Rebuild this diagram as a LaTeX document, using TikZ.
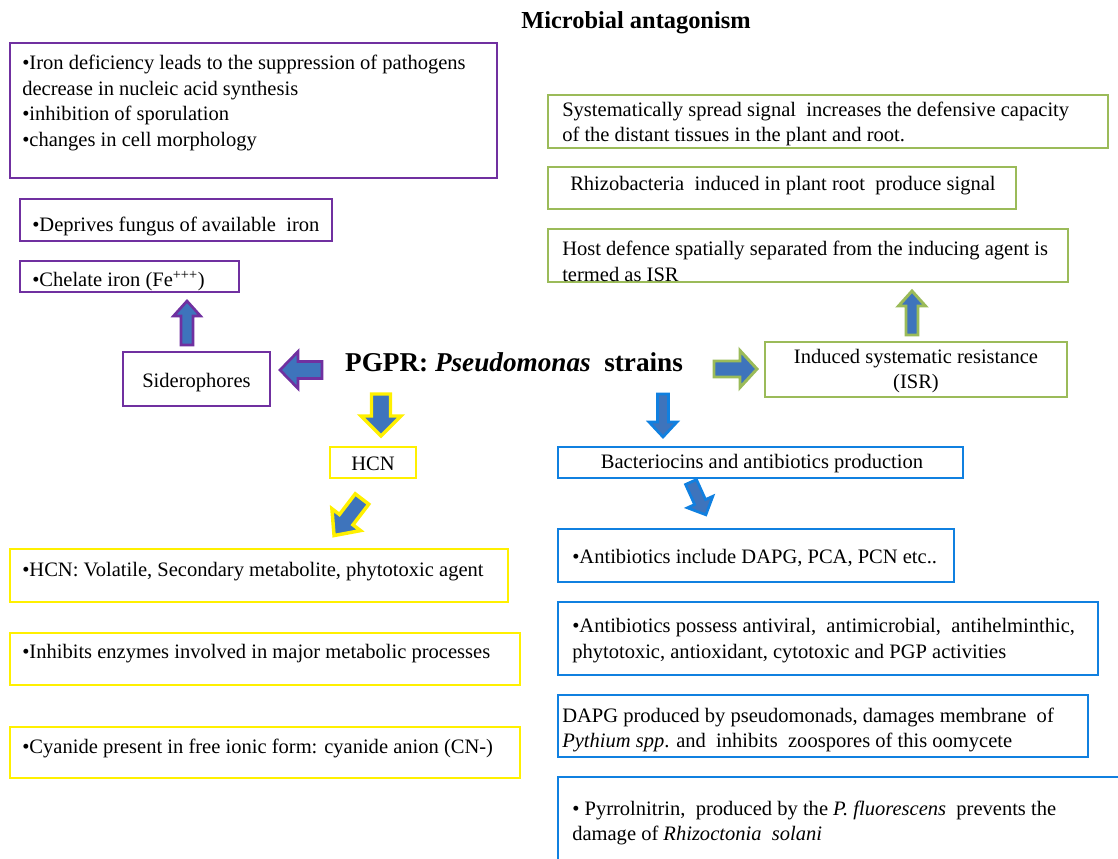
\documentclass[tikz,border=0pt]{standalone}
\usepackage{fontspec}
\setmainfont{Liberation Serif}
\definecolor{cpurple}{HTML}{7030A0}
\definecolor{cgreen}{HTML}{9BBB59}
\definecolor{cblue}{HTML}{1080E0}
\definecolor{cyellow}{HTML}{FFF000}
\definecolor{afill}{HTML}{3E74BC}
\newcommand{\bodyfont}{\fontsize{15.4}{19.4}\selectfont}
% box: name, colour, x1, y1, x2, y2 (pixel coordinates)
\newcommand{\bx}[6]{\node[draw=#2, line width=2.2pt, inner sep=0pt, outer sep=0pt,
  minimum width={(#5-#3)*0.75pt}, minimum height={(#6-#4)*0.75pt}, anchor=north west] (#1) at (#3,#4) {};}
% block arrow: style, tail coordinate, angle, length, shaft half, head half, head length
\newcommand{\blockarrow}[7]{\begin{scope}[shift={(#2)}, rotate=#3]
  \draw[#1] (0,-#5) -- ({#4-#7},-#5) -- ({#4-#7},-#6) -- (#4,0) -- ({#4-#7},#6) -- ({#4-#7},#5) -- (0,#5) -- cycle;
  \end{scope}}
\tikzset{
  txt/.style={font=\bodyfont, inner sep=0pt, align=left, anchor=west},
  arrp/.style={draw=cpurple, fill=afill, line width=2pt, line join=miter},
  arry/.style={draw=cyellow, fill=afill, line width=2.6pt, line join=miter},
  arrg/.style={draw=cgreen, fill=afill, line width=2.2pt, line join=miter},
  arrb/.style={draw=cblue, fill=afill, line width=2pt, line join=miter},
}
\begin{document}
\begin{tikzpicture}[x=0.75pt, y=-0.75pt]
\useasboundingbox[fill=white] (0,0) rectangle (1118,858);

% title
\node[font=\fontsize{18.3}{21}\selectfont\bfseries, inner sep=0pt] (title) at (636,23) {Microbial antagonism};

% centre
\node[font=\fontsize{20.4}{24}\selectfont\bfseries, inner sep=0pt] (pgpr) at (514,362) {PGPR: \textit{Pseudomonas}\ \ strains};

% purple group
\bx{p1}{cpurple}{10}{43}{497}{178}
\node[txt] (p1t) at (22,103) {•Iron deficiency leads to the suppression of pathogens\\decrease in nucleic acid synthesis\\•inhibition of sporulation\\•changes in cell morphology};
\bx{p2}{cpurple}{20}{199}{332}{241}
\node[txt] (p2t) at (32,226) {•Deprives fungus of available\ \ iron};
\bx{p3}{cpurple}{20}{261}{239}{292}
\node[txt] (p3t) at (32,281) {•Chelate iron (Fe\textsuperscript{+++})};
\bx{sid}{cpurple}{123}{352}{270}{406}
\node[txt, anchor=center] (sidt) at (196.5,383) {Siderophores};

% yellow group
\bx{hcn}{cyellow}{330}{447}{416}{478}
\node[txt, anchor=center] (hcnt) at (373,464) {HCN};
\bx{y1}{cyellow}{10}{549}{508}{602}
\node[txt] (y1t) at (22,572) {•HCN: Volatile, Secondary metabolite, phytotoxic agent};
\bx{y2}{cyellow}{10}{633}{520}{685}
\node[txt] (y2t) at (22,654) {•Inhibits enzymes involved in major metabolic processes};
\bx{y3}{cyellow}{10}{727}{520}{778}
\node[txt] (y3t) at (22,748) {•Cyanide present in free ionic form: cyanide anion (CN-)};

% green group
\bx{g1}{cgreen}{548}{95}{1108}{148}
\node[txt] (g1t) at (562,124) {Systematically spread signal\ \ increases the defensive capacity\\of the distant tissues in the plant and root.};
\bx{g2}{cgreen}{548}{167}{1016}{209}
\node[txt] (g2t) at (570,186) {Rhizobacteria\ \ induced in plant root\ \ produce signal};
\bx{g3}{cgreen}{548}{229}{1068}{282}
\node[txt] (g3t) at (562,261) {Host defence spatially separated from the inducing agent is\\termed as ISR};
\bx{isr}{cgreen}{765}{342}{1067}{397}
\node[txt, align=center, anchor=center] (isrt) at (916,371) {Induced systematic resistance\\(ISR)};

% blue group
\bx{bact}{cblue}{558}{447}{963}{478}
\node[txt, anchor=center] (bactt) at (762,464) {Bacteriocins and antibiotics production};
\bx{b1}{cblue}{558}{529}{954}{582}
\node[txt] (b1t) at (572,558) {•Antibiotics include DAPG, PCA, PCN etc..};
\bx{b2}{cblue}{558}{602}{1098}{675}
\node[txt] (b2t) at (572,641) {•Antibiotics possess antiviral,\ \ antimicrobial,\ \ antihelminthic,\\phytotoxic, antioxidant, cytotoxic and PGP activities};
\bx{b3}{cblue}{558}{695}{1088}{757}
\node[txt] (b3t) at (562,730) {DAPG produced by pseudomonads, damages membrane\ \ of\\\textit{Pythium spp}. and\ \ inhibits\ \ zoospores of this oomycete};
\bx{b4}{cblue}{558}{777}{1140}{880}
\node[txt] (b4t) at (572,823) {• Pyrrolnitrin,\ \ produced by the \textit{P. fluorescens}\ \ prevents the\\damage of \textit{Rhizoctonia\ \ solani}};

% arrow tails
\coordinate (tSidUp) at (187,345);
\coordinate (tLeft) at (322,370);
\coordinate (tHcn) at (381,394);
\coordinate (tHcnD) at (362,499);
\coordinate (tBact) at (663,394);
\coordinate (tBactD) at (691,482);
\coordinate (tIsr) at (714,369);
\coordinate (tIsrUp) at (912,335);

\blockarrow{arrp}{tSidUp}{90}{44}{6}{13.5}{15}
\blockarrow{arrp}{tLeft}{180}{42}{8.5}{18.5}{18}
\blockarrow{arry}{tHcn}{270}{42}{9.5}{20}{20}
\blockarrow{arry}{tHcnD}{232.6}{46}{8.5}{18}{20}
\blockarrow{arrb}{tBact}{270}{43}{5.5}{14}{15}
\blockarrow{arrb}{tBactD}{294.4}{36}{6}{14}{14}
\blockarrow{arrg}{tIsr}{0}{43}{8}{18.5}{17}
\blockarrow{arrg}{tIsrUp}{90}{44}{6}{13.5}{15}
\end{tikzpicture}
\end{document}
